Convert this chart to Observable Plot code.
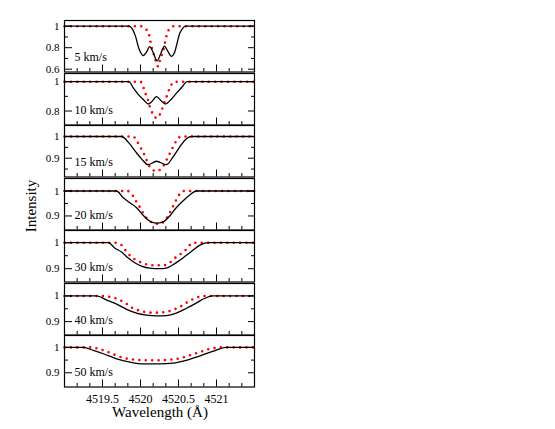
<!DOCTYPE html>
<html><head><meta charset="utf-8">
<script src="https://cdn.jsdelivr.net/npm/d3@7"></script>
<script src="https://cdn.jsdelivr.net/npm/@observablehq/plot@0.6"></script>
<style>
body{margin:0;background:#fff;}
#chart{position:relative;width:555px;height:429px;font-family:"Liberation Serif","Times New Roman",serif;color:#000;}
.title{position:absolute;font-size:15px;white-space:nowrap;line-height:18px;}
#chart g[aria-label="x-axis"] text, #chart g[aria-label="x-axis tick label"] text{font-size:12px;}
</style>
</head><body><div id="chart"></div>
<script>
// ---- data ----
const xDomain = [4519, 4521.5];
const xTicks = [4519.5, 4520, 4520.5, 4521];
const xMinor = [4519.1667, 4519.3333, 4519.6667, 4519.8333, 4520.1667, 4520.3333, 4520.6667, 4520.8333, 4521.1667, 4521.3333];
const labels = ["5 km/s", "10 km/s", "15 km/s", "20 km/s", "30 km/s", "40 km/s", "50 km/s"];

const b5 = [[4519,1],[4519.85,1],[4519.903,0.96],[4519.938,0.898],[4519.969,0.814],[4520.0,0.758],[4520.034,0.727],[4520.078,0.758],[4520.12,0.81],[4520.165,0.758],[4520.217,0.677],[4520.266,0.743],[4520.315,0.815],[4520.361,0.765],[4520.405,0.72],[4520.449,0.758],[4520.479,0.836],[4520.514,0.929],[4520.55,0.976],[4520.593,1],[4521.5,1]];
const r5 = [[4519,1],[4520.0,1],[4520.078,0.969],[4520.113,0.92],[4520.131,0.857],[4520.152,0.79],[4520.178,0.734],[4520.20,0.68],[4520.217,0.635],[4520.235,0.625],[4520.255,0.68],[4520.28,0.734],[4520.305,0.79],[4520.325,0.857],[4520.345,0.92],[4520.375,0.969],[4520.44,1],[4521.5,1]];

const b10 = [[4519,1],[4519.85,1],[4519.903,0.959],[4519.969,0.914],[4520.034,0.88],[4520.105,0.848],[4520.144,0.862],[4520.21,0.898],[4520.275,0.868],[4520.327,0.848],[4520.405,0.88],[4520.479,0.925],[4520.558,0.971],[4520.61,1],[4521.5,1]];
const r10 = [[4519,1],[4520.0,1],[4520.043,0.955],[4520.07,0.914],[4520.10,0.873],[4520.12,0.834],[4520.144,0.80],[4520.178,0.766],[4520.21,0.752],[4520.245,0.766],[4520.275,0.80],[4520.3,0.834],[4520.325,0.873],[4520.355,0.914],[4520.383,0.955],[4520.42,0.99],[4520.45,1],[4521.5,1]];

const b15 = [[4519,1],[4519.751,1],[4519.838,0.974],[4519.925,0.935],[4520.013,0.897],[4520.10,0.87],[4520.21,0.886],[4520.34,0.87],[4520.427,0.905],[4520.514,0.951],[4520.60,0.989],[4520.668,1],[4521.5,1]];
const r15 = [[4519,1],[4519.903,1],[4519.947,0.982],[4519.99,0.955],[4520.034,0.928],[4520.07,0.90],[4520.10,0.874],[4520.144,0.851],[4520.21,0.84],[4520.27,0.851],[4520.318,0.874],[4520.36,0.905],[4520.405,0.935],[4520.449,0.966],[4520.49,0.989],[4520.53,1],[4521.5,1]];

const b20 = [[4519,1],[4519.686,1],[4519.773,0.973],[4519.86,0.953],[4519.948,0.933],[4520.034,0.903],[4520.12,0.88],[4520.21,0.871],[4520.296,0.876],[4520.384,0.90],[4520.47,0.933],[4520.558,0.96],[4520.645,0.983],[4520.733,1],[4521.5,1]];
const r20 = [[4519,1],[4519.83,1],[4519.903,0.98],[4519.943,0.958],[4519.99,0.936],[4520.034,0.912],[4520.078,0.892],[4520.12,0.88],[4520.187,0.869],[4520.25,0.869],[4520.318,0.88],[4520.36,0.90],[4520.405,0.924],[4520.436,0.944],[4520.47,0.964],[4520.505,0.983],[4520.558,1],[4521.5,1]];

const b30 = [[4519,1],[4519.576,1],[4519.664,0.979],[4519.751,0.964],[4519.838,0.941],[4519.925,0.923],[4520.013,0.91],[4520.12,0.902],[4520.25,0.90],[4520.34,0.902],[4520.427,0.915],[4520.514,0.932],[4520.60,0.951],[4520.685,0.97],[4520.776,0.99],[4520.885,1],[4521.5,1]];
const r30 = [[4519,1],[4519.686,1],[4519.755,0.99],[4519.81,0.968],[4519.87,0.948],[4519.95,0.932],[4520.056,0.919],[4520.144,0.913],[4520.24,0.913],[4520.34,0.915],[4520.405,0.928],[4520.47,0.945],[4520.535,0.958],[4520.587,0.97],[4520.636,0.987],[4520.69,1],[4521.5,1]];

const b40 = [[4519,1],[4519.424,1],[4519.555,0.984],[4519.686,0.968],[4519.817,0.948],[4519.948,0.933],[4520.078,0.925],[4520.21,0.922],[4520.34,0.923],[4520.47,0.933],[4520.60,0.951],[4520.733,0.972],[4520.84,0.99],[4520.95,1],[4521.5,1]];
const r40 = [[4519,1],[4519.51,1],[4519.589,0.997],[4519.664,0.992],[4519.73,0.984],[4519.808,0.971],[4519.882,0.955],[4519.955,0.946],[4520.034,0.939],[4520.12,0.935],[4520.23,0.935],[4520.318,0.937],[4520.405,0.943],[4520.47,0.951],[4520.558,0.964],[4520.623,0.977],[4520.689,0.987],[4520.776,0.997],[4520.86,1],[4521.5,1]];

const b50 = [[4519,1],[4519.249,1],[4519.38,0.988],[4519.51,0.975],[4519.686,0.955],[4519.86,0.942],[4520.034,0.935],[4520.25,0.935],[4520.427,0.938],[4520.60,0.949],[4520.776,0.966],[4520.95,0.984],[4521.125,1],[4521.5,1]];
const r50 = [[4519,1],[4519.358,1],[4519.445,0.995],[4519.52,0.988],[4519.598,0.979],[4519.686,0.968],[4519.77,0.959],[4519.88,0.953],[4519.99,0.95],[4520.21,0.949],[4520.43,0.953],[4520.535,0.958],[4520.623,0.966],[4520.71,0.975],[4520.80,0.984],[4520.885,0.992],[4520.97,0.997],[4521.06,1],[4521.5,1]];

const models = [b5, b10, b15, b20, b30, b40, b50];
const observed = [r5, r10, r15, r20, r30, r40, r50];
const yMajor = [[1,0.8,0.6],[1,0.8],[1,0.9],[1,0.9],[1,0.9],[1,0.9],[1,0.9]];
const yMinor = [[0.9,0.7],[0.9],[0.95,0.85],[0.95],[0.95],[0.95],[0.95]];
const yDomains = [[0.574,1.053],[0.7045,1.056],[0.8133,1.0507],[0.8438,1.05],[0.8488,1.047],[0.8478,1.0486],[0.8438,1.047]];

// ---- layout ----
const W = 555, ML = 64, MR = 301, TOP = 20, PH = 51.5, STEP = 52.5, MB = 40;
const PW = W - ML - MR;
const chart = document.getElementById("chart");
const fmt = d => String(d);

labels.forEach((lab, i) => {
  const last = i === labels.length - 1;
  const svg = Plot.plot({
    width: W,
    height: PH + (last ? MB : 0),
    marginLeft: ML, marginRight: MR, marginTop: 0, marginBottom: last ? MB : 0,
    style: {fontFamily: '"Liberation Serif", "Times New Roman", serif', fontSize: "11px", background: "transparent", overflow: "visible", color: "#000"},
    x: {domain: xDomain, ticks: xTicks, tickSize: 0, tickPadding: 7, tickFormat: fmt, label: null, axis: last ? "bottom" : null},
    y: {domain: yDomains[i], ticks: yMajor[i], tickSize: 0, tickPadding: 5, tickFormat: fmt, label: null},
    marks: [
      Plot.line(observed[i], {x: d => d[0], y: d => d[1], stroke: "#ff0000", strokeWidth: 2.6, strokeDasharray: "0,6.4", strokeLinecap: "round", curve: "monotone-x"}),
      Plot.line(models[i], {x: d => d[0], y: d => d[1], stroke: "#000", strokeWidth: 1.3, curve: "monotone-x"}),
      Plot.tickX(xTicks, {x: d => d, insetTop: PH - 7, stroke: "#000"}),
      Plot.tickX(xMinor, {x: d => d, insetTop: PH - 3.5, stroke: "#000"}),
      Plot.tickY(yMajor[i], {y: d => d, insetRight: PW - 8, stroke: "#000"}),
      Plot.tickY(yMinor[i], {y: d => d, insetRight: PW - 4, stroke: "#000"}),
      Plot.tickY(yMajor[i], {y: d => d, insetLeft: PW - 6, stroke: "#000"}),
      Plot.tickY(yMinor[i], {y: d => d, insetLeft: PW - 3, stroke: "#000"}),
      Plot.frame({stroke: "#000", strokeWidth: 1.2}),
      Plot.text([lab], {text: d => d, frameAnchor: "top-left", dx: 10, dy: 37, textAnchor: "start", lineAnchor: "middle", fontSize: 12, fill: "#000"})
    ]
  });
  svg.style.position = "absolute";
  svg.style.left = "0px";
  svg.style.top = (TOP + i * STEP) + "px";
  chart.appendChild(svg);
});

const xt = document.createElement("div");
xt.className = "title";
xt.textContent = "Wavelength (Å)";
xt.style.left = "160px"; xt.style.top = "412px"; xt.style.transform = "translate(-50%,-50%)";
chart.appendChild(xt);

const yt = document.createElement("div");
yt.className = "title";
yt.textContent = "Intensity";
yt.style.left = "31px"; yt.style.top = "206px"; yt.style.transform = "translate(-50%,-50%) rotate(-90deg)";
chart.appendChild(yt);
</script>
</body></html>
